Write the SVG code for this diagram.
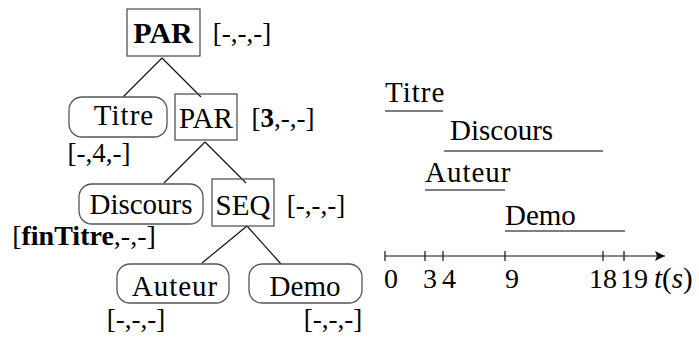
<svg xmlns="http://www.w3.org/2000/svg" width="699" height="338" viewBox="0 0 699 338">
<style>
.box{fill:none;stroke:#555;stroke-width:1.3}
.edge{stroke:#111;stroke-width:1.2;fill:none}
.ul{stroke:#555;stroke-width:1.4}
.tick{stroke:#111;stroke-width:1.2;fill:none}
</style>
<defs>
<marker id="arr" viewBox="0 0 10 10" refX="10" refY="5" markerWidth="10" markerHeight="10" markerUnits="userSpaceOnUse" orient="auto">
<path d="M0,0 L10,5 L0,10 L2,5 Z" fill="#111"/>
</marker>
</defs>
<rect width="699" height="338" fill="#fff"/>
<g id="connectors">
<path class="edge" d="M162,58 L123,97 M162,58 L201,97"/>
<path class="edge" d="M205,142 L164,183 M205,142 L246,183"/>
<path class="edge" d="M247,226 L202,263 M247,226 L281,264"/>
</g>
<g id="par-root">
<rect class="box" x="127" y="9" width="73" height="47"/>
<text font-family="Liberation Serif, serif" font-size="30" font-weight="bold" text-anchor="middle" x="163" y="43">PAR</text>
<text font-family="Liberation Serif, serif" font-size="27" text-anchor="middle" x="242" y="42">[-,-,-]</text>
</g>
<g id="titre">
<rect class="box" x="69" y="97" width="98" height="40" rx="13"/>
<text font-family="Liberation Serif, serif" font-size="29" letter-spacing="1" text-anchor="middle" x="124" y="125">Titre</text>
<text font-family="Liberation Serif, serif" font-size="27" text-anchor="middle" x="99" y="162">[-,4,-]</text>
</g>
<g id="par2">
<rect class="box" x="175" y="94" width="62" height="46"/>
<text font-family="Liberation Serif, serif" font-size="29" text-anchor="middle" x="206" y="128">PAR</text>
<text font-family="Liberation Serif, serif" font-size="27" text-anchor="middle" x="283" y="127">[<tspan font-weight="bold">3</tspan>,-,-]</text>
</g>
<g id="discours">
<rect class="box" x="79" y="184" width="124" height="40" rx="13"/>
<text font-family="Liberation Serif, serif" font-size="29" text-anchor="middle" x="141" y="214">Discours</text>
<text font-family="Liberation Serif, serif" font-size="28" text-anchor="middle" x="84" y="245">[<tspan font-weight="bold">finTitre</tspan>,-,-]</text>
</g>
<g id="seq">
<rect class="box" x="212" y="179" width="62" height="47"/>
<text font-family="Liberation Serif, serif" font-size="29" text-anchor="middle" x="243" y="215">SEQ</text>
<text font-family="Liberation Serif, serif" font-size="27" text-anchor="middle" x="316" y="214">[-,-,-]</text>
</g>
<g id="auteur">
<rect class="box" x="117" y="264" width="112" height="39" rx="13"/>
<text font-family="Liberation Serif, serif" font-size="29" letter-spacing="1" text-anchor="middle" x="175" y="296">Auteur</text>
<text font-family="Liberation Serif, serif" font-size="27" text-anchor="middle" x="136" y="328">[-,-,-]</text>
</g>
<g id="demo">
<rect class="box" x="249" y="264" width="113" height="39" rx="13"/>
<text font-family="Liberation Serif, serif" font-size="29" text-anchor="middle" x="305" y="296">Demo</text>
<text font-family="Liberation Serif, serif" font-size="27" text-anchor="middle" x="333" y="328">[-,-,-]</text>
</g>
<g id="timeline">
<text font-family="Liberation Serif, serif" font-size="29" letter-spacing="1" x="385" y="102">Titre</text>
<line class="ul" x1="385" y1="111" x2="443" y2="111"/>
<text font-family="Liberation Serif, serif" font-size="29" x="450" y="140">Discours</text>
<line class="ul" x1="444" y1="151" x2="603" y2="151"/>
<text font-family="Liberation Serif, serif" font-size="29" letter-spacing="1" x="425" y="182">Auteur</text>
<line class="ul" x1="425" y1="190" x2="505" y2="190"/>
<text font-family="Liberation Serif, serif" font-size="29" x="505" y="225">Demo</text>
<line class="ul" x1="505" y1="231" x2="625" y2="231"/>
<line class="tick" x1="385" y1="256" x2="665" y2="256" marker-end="url(#arr)"/>
<path class="tick" d="M385,251V261 M425,251V261 M443,251V261 M505,251V261 M603,251V261 M624,251V261"/>
<text font-family="Liberation Serif, serif" font-size="28" x="384" y="288">0</text>
<text font-family="Liberation Serif, serif" font-size="28" x="423" y="288">3</text>
<text font-family="Liberation Serif, serif" font-size="28" x="442" y="288">4</text>
<text font-family="Liberation Serif, serif" font-size="28" x="505" y="288">9</text>
<text font-family="Liberation Serif, serif" font-size="28" text-anchor="middle" x="603" y="288">18</text>
<text font-family="Liberation Serif, serif" font-size="28" x="620" y="288">19</text>
<text font-family="Liberation Serif, serif" font-size="29" x="654" y="288"><tspan font-style="italic">t</tspan>(<tspan font-style="italic">s</tspan>)</text>
</g>
</svg>
